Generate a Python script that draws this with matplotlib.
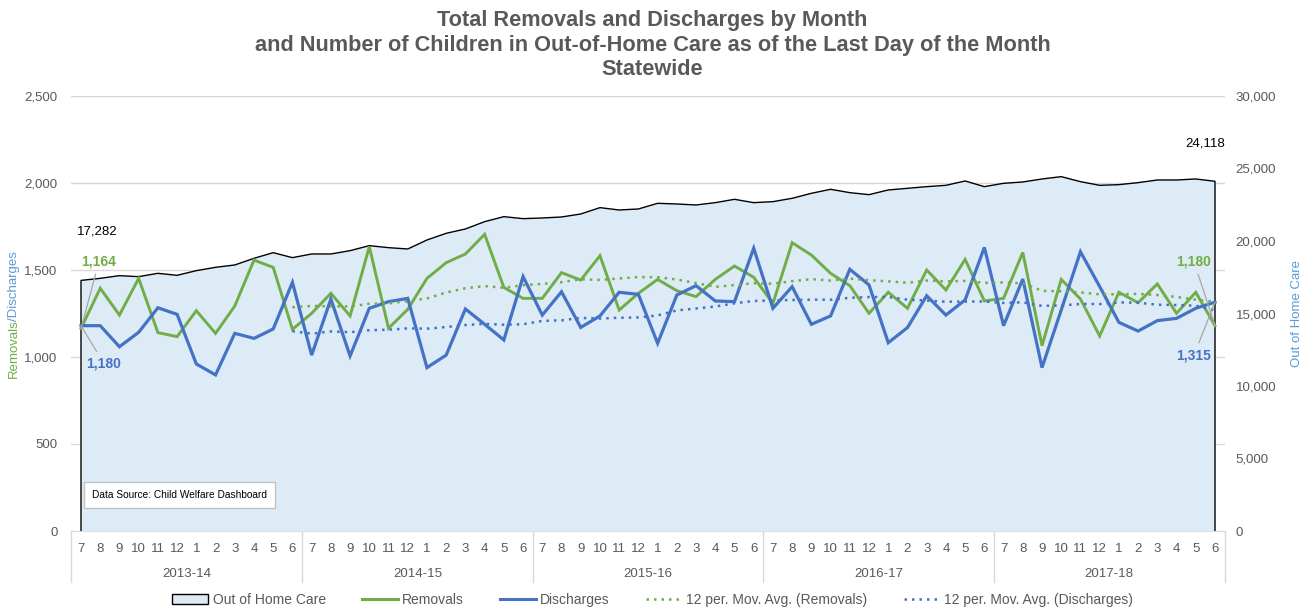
import matplotlib
matplotlib.use("Agg")
import matplotlib.pyplot as plt
import numpy as np
import pandas as pd
from matplotlib.patches import Patch
from matplotlib.lines import Line2D

# ---------------- data ----------------
fiscal_years = ["2013-14", "2014-15", "2015-16", "2016-17", "2017-18"]
month_labels = ["7", "8", "9", "10", "11", "12", "1", "2", "3", "4", "5", "6"]

removals = [1164, 1395, 1241, 1452, 1140, 1117, 1266, 1136, 1293, 1557, 1515, 1159,
            1251, 1366, 1236, 1634, 1165, 1274, 1452, 1542, 1592, 1705, 1400, 1337,
            1337, 1485, 1442, 1582, 1270, 1366, 1446, 1381, 1347, 1446, 1523, 1458,
            1308, 1657, 1586, 1481, 1410, 1251, 1372, 1280, 1500, 1385, 1561, 1322,
            1337, 1601, 1065, 1446, 1333, 1121, 1372, 1312, 1420, 1251, 1372, 1180]

discharges = [1180, 1180, 1059, 1142, 1283, 1245, 960, 897, 1136, 1107, 1161, 1429,
              1011, 1333, 1006, 1280, 1318, 1337, 939, 1011, 1276, 1188, 1098, 1462,
              1241, 1375, 1170, 1236, 1372, 1360, 1079, 1356, 1410, 1322, 1318, 1625,
              1280, 1404, 1188, 1236, 1504, 1414, 1082, 1169, 1352, 1241, 1328, 1630,
              1180, 1448, 939, 1270, 1605, 1405, 1199, 1149, 1209, 1222, 1280, 1315]

out_of_home = [17282, 17426, 17610, 17541, 17771, 17633, 17955, 18185, 18346, 18806, 19196, 18852,
               19105, 19105, 19334, 19679, 19541, 19449, 20070, 20530, 20829, 21334, 21679, 21541,
               21587, 21656, 21863, 22300, 22139, 22208, 22599, 22553, 22484, 22645, 22875, 22645,
               22714, 22944, 23289, 23565, 23334, 23197, 23519, 23633, 23748, 23840, 24139, 23748,
               23978, 24070, 24277, 24438, 24093, 23840, 23886, 24024, 24208, 24208, 24277, 24118]

left_ticks = [0, 500, 1000, 1500, 2000, 2500]
right_ticks = [0, 5000, 10000, 15000, 20000, 25000, 30000]

# ---------------- styling ----------------
GREEN = "#70AD47"
BLUE = "#4472C4"
LBLUE = "#5B9BD5"
AREA = "#DDEBF7"
GRAY = "#595959"
GRID = "#D9D9D9"
NARROW = ["Liberation Sans Narrow", "Liberation Sans", "DejaVu Sans"]
SANS = ["Liberation Sans", "DejaVu Sans"]

W, H = 1305, 611
fig = plt.figure(figsize=(W / 100, H / 100), dpi=100)

def fx(px):
    return px / W

def fy(py):
    return 1 - py / H

L, R, T, B = 71.4, 1224.6, 96, 531
ax = fig.add_axes([fx(L), fy(B), fx(R) - fx(L), fy(T) - fy(B)])
ax2 = ax.twinx()   # area (right axis)
ax3 = ax.twinx()   # lines (left scale), on top

n = len(removals)
x = np.arange(n)

# left axis: gridlines & ticks
ax.set_xlim(-0.5, n - 0.5)
ax.set_ylim(0, 2500)
ax.set_yticks(left_ticks)
ax.set_yticklabels([f"{v:,}" for v in left_ticks], family=NARROW, fontsize=9.5, color=GRAY)
ax.yaxis.grid(True, color=GRID, linewidth=1)
ax.set_axisbelow(True)
ax.tick_params(axis="y", length=0, pad=10)
for s in ["left", "right", "top"]:
    ax.spines[s].set_visible(False)
ax.spines["bottom"].set_color(GRID)

# x ticks: months
ax.set_xticks(x)
ax.set_xticklabels(month_labels * len(fiscal_years), family=NARROW, fontsize=9.5, color=GRAY)
ax.tick_params(axis="x", length=0, pad=9)

# year labels & separators
xt = ax.get_xaxis_transform()
for i, fy_lab in enumerate(fiscal_years):
    ax.text(i * 12 + 5.5, -0.099, fy_lab, transform=xt, ha="center", va="center",
            family=NARROW, fontsize=9.5, color=GRAY)
for i in range(len(fiscal_years) + 1):
    ax.plot([i * 12 - 0.5, i * 12 - 0.5], [0, -0.118], transform=xt, color=GRID,
            linewidth=1, clip_on=False)

# right axis: area
ax2.set_ylim(0, 30000)
ax2.set_yticks(right_ticks)
ax2.set_yticklabels([f"{v:,}" for v in right_ticks], family=NARROW, fontsize=9.5, color=GRAY)
ax2.tick_params(axis="y", length=0, pad=8)
for s in ["left", "right", "top", "bottom"]:
    ax2.spines[s].set_visible(False)
ax2.fill_between(x, out_of_home, 0, color=AREA, linewidth=0)
ooh_outline_x = np.concatenate([[x[0]], x, [x[-1]]])
ooh_outline_y = np.concatenate([[0], out_of_home, [0]])
ax2.plot(ooh_outline_x, ooh_outline_y, color="black", linewidth=1.0)
ax2.set_ylabel("Out of Home Care", color=LBLUE, family=NARROW, fontsize=9.5,
               rotation=90, labelpad=10)
ax2.yaxis.set_label_coords(fx(1291 - L) / (fx(R) - fx(L)), 0.5)

# lines
ax3.set_ylim(0, 2500)
ax3.set_xlim(-0.5, n - 0.5)
ax3.set_yticks([])
for s in ["left", "right", "top", "bottom"]:
    ax3.spines[s].set_visible(False)
rem_ma = pd.Series(removals).rolling(12).mean()
dis_ma = pd.Series(discharges).rolling(12).mean()
ax3.plot(x, removals, color=GREEN, linewidth=2.1, solid_joinstyle="miter")
ax3.plot(x, discharges, color=BLUE, linewidth=2.3, solid_joinstyle="miter")
ax3.plot(x, rem_ma, color=GREEN, linewidth=1.8, linestyle=(0, (1, 2)))
ax3.plot(x, dis_ma, color=BLUE, linewidth=1.8, linestyle=(0, (1, 2)))

# data labels
lead = dict(arrowstyle="-", color="#A6A6A6", linewidth=0.9, shrinkA=2, shrinkB=0)
ax3.annotate(f"{removals[0]:,}", xy=(0, removals[0]), xytext=(18, 67),
             textcoords="offset pixels", ha="center", va="center", color=GREEN,
             fontweight="bold", family=SANS, fontsize=10, arrowprops=lead)
ax3.annotate(f"{discharges[0]:,}", xy=(0, discharges[0]), xytext=(23, -38),
             textcoords="offset pixels", ha="center", va="center", color=BLUE,
             fontweight="bold", family=SANS, fontsize=10, arrowprops=lead)
ax3.annotate(f"{removals[-1]:,}", xy=(n - 1, removals[-1]), xytext=(-21, 64),
             textcoords="offset pixels", ha="center", va="center", color=GREEN,
             fontweight="bold", family=SANS, fontsize=10, arrowprops=lead)
ax3.annotate(f"{discharges[-1]:,}", xy=(n - 1, discharges[-1]), xytext=(-21, -53),
             textcoords="offset pixels", ha="center", va="center", color=BLUE,
             fontweight="bold", family=SANS, fontsize=10, arrowprops=lead)
ax2.annotate(f"{out_of_home[0]:,}", xy=(0, out_of_home[0]), xytext=(16, 49),
             textcoords="offset pixels", ha="center", va="center", color="black",
             family=SANS, fontsize=9.5)
ax2.annotate(f"{out_of_home[-1]:,}", xy=(n - 1, out_of_home[-1]), xytext=(-10, 38),
             textcoords="offset pixels", ha="center", va="center", color="black",
             family=SANS, fontsize=9.5)

# data source box
fig.text(fx(92), fy(495), "Data Source: Child Welfare Dashboard", ha="left", va="center",
         family=SANS, fontsize=7.3, color="black",
         bbox=dict(boxstyle="square,pad=0.75", facecolor="white", edgecolor="#BFBFBF", linewidth=0.9))

# title
fig.text(0.5, fy(45), "Total Removals and Discharges by Month\n"
         "and Number of Children in Out-of-Home Care as of the Last Day of the Month\n"
         "Statewide", ha="center", va="center", family=SANS, fontweight="bold",
         fontsize=15.7, color=GRAY, linespacing=1.22)

# two-coloured left axis title
t1 = fig.text(fx(14), fy(378), "Removals", rotation=90, ha="center", va="bottom",
              family=NARROW, fontsize=9.5, color=GREEN)
fig.canvas.draw()
bb = t1.get_window_extent()
fig.text(fx(14), (bb.y1 - 2) / H, "/Discharges", rotation=90, ha="center", va="bottom",
         family=NARROW, fontsize=9.5, color=LBLUE)

# legend
handles = [Patch(facecolor=AREA, edgecolor="black", linewidth=1.0),
           Line2D([], [], color=GREEN, linewidth=2.2),
           Line2D([], [], color=BLUE, linewidth=2.2),
           Line2D([], [], color=GREEN, linewidth=1.8, linestyle=(0, (1, 2))),
           Line2D([], [], color=BLUE, linewidth=1.8, linestyle=(0, (1, 2)))]
labels = ["Out of Home Care", "Removals", "Discharges",
          "12 per. Mov. Avg. (Removals)", "12 per. Mov. Avg. (Discharges)"]
fig.legend(handles, labels, loc="center", bbox_to_anchor=(0.5, fy(600)), ncol=5,
           frameon=False, prop=dict(family=NARROW, size=10), labelcolor=GRAY,
           handlelength=2.6, handletextpad=0.3, columnspacing=2.6)

fig.savefig("out.png", dpi=100)
